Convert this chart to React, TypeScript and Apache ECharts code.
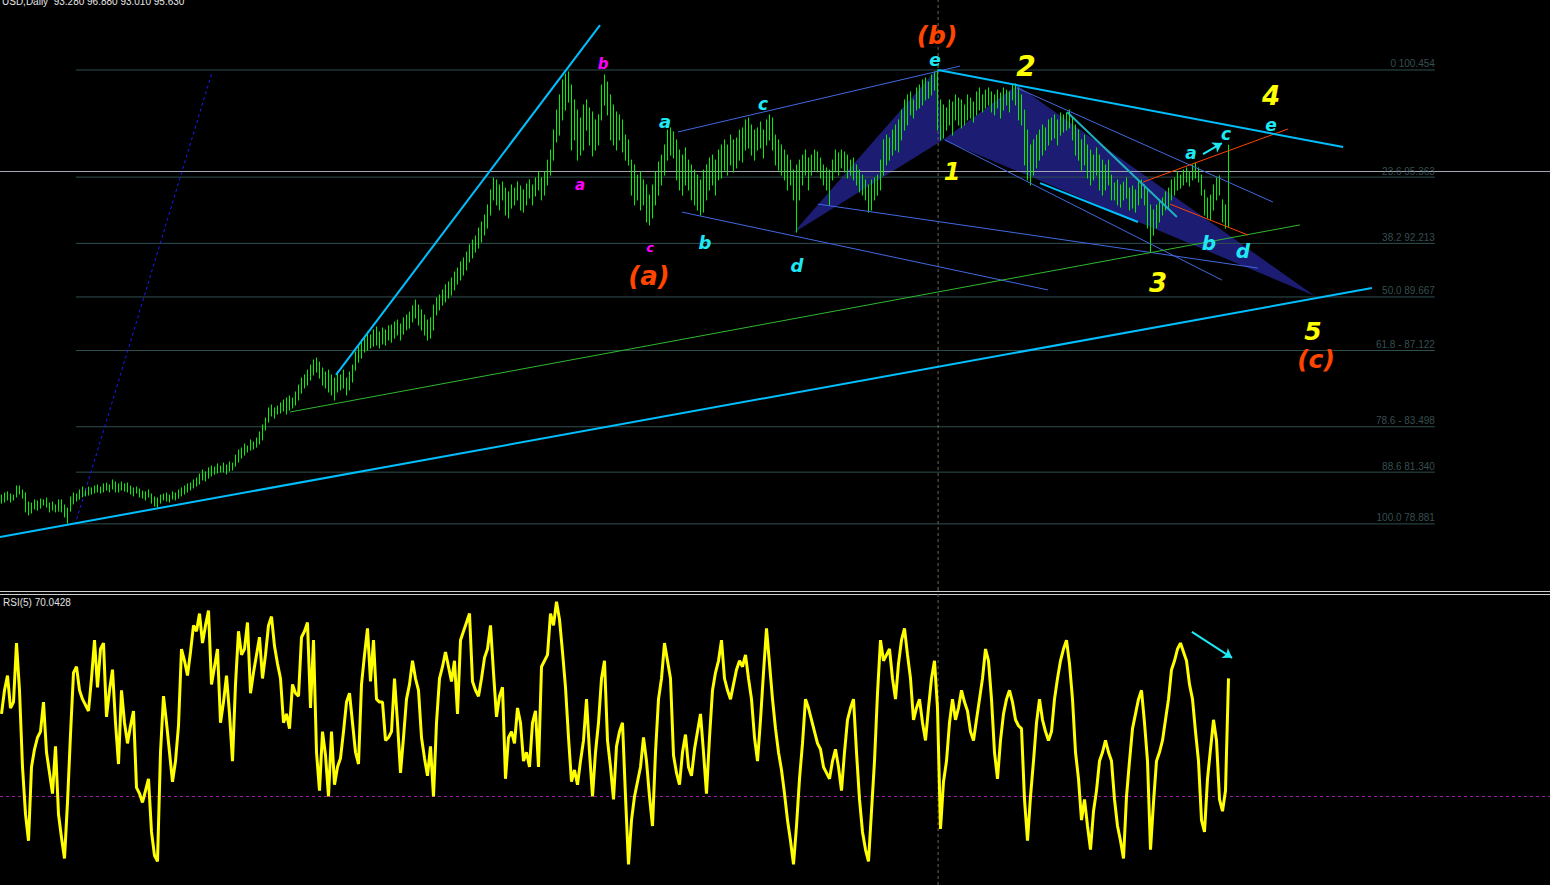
import React, { useEffect, useRef } from "react";
import * as echarts from "echarts";

// ---- price bars (daily high / low) ----
const barHigh = [
  80.25,80.35,80.40,80.30,80.25,80.68,80.68,80.49,80.35,79.92,
  79.87,80.02,79.97,80.06,80.02,80.11,79.87,79.92,79.78,80.02,
  80.02,79.78,79.63,80.16,80.35,80.30,80.49,80.63,80.54,80.63,
  80.59,80.68,80.73,80.63,80.78,80.82,80.73,80.97,80.87,80.78,
  80.87,80.78,80.82,80.68,80.59,80.63,80.54,80.44,80.40,80.49,
  80.30,80.16,80.11,80.25,80.30,80.35,80.25,80.40,80.35,80.49,
  80.59,80.68,80.78,80.82,80.97,81.06,81.25,81.44,81.35,81.54,
  81.63,81.58,81.73,81.63,81.77,81.68,81.82,81.77,82.15,82.39,
  82.49,82.68,82.58,82.87,82.77,82.96,83.25,83.58,83.91,84.39,
  84.53,84.39,84.48,84.63,84.77,84.86,84.96,84.86,85.15,85.48,
  85.81,85.96,86.19,86.43,86.67,86.76,86.57,86.29,86.10,86.19,
  85.96,85.81,86.10,85.96,86.19,85.81,86.10,86.43,87.05,87.38,
  87.62,87.71,88.00,87.86,88.10,88.24,88.00,88.19,88.10,88.29,
  88.33,88.48,88.57,88.38,88.67,88.81,88.95,89.24,89.52,89.28,
  89.05,88.81,88.57,88.67,89.28,89.62,89.76,90.00,90.24,90.38,
  90.57,90.85,91.04,91.33,91.52,91.80,92.14,92.37,92.56,92.94,
  93.23,93.56,94.04,94.75,95.32,95.23,94.99,95.13,94.84,94.66,
  94.99,94.84,95.13,94.94,94.75,95.04,95.23,94.99,95.32,95.61,
  95.32,95.61,96.17,96.65,97.60,98.55,99.27,99.98,100.26,100.36,
  99.74,99.03,98.55,98.17,98.79,99.03,98.65,98.46,98.08,98.32,
  99.74,100.22,99.88,99.27,98.79,98.46,98.32,98.08,97.36,97.13,
  96.17,95.94,95.46,95.61,95.23,94.99,94.51,94.99,95.61,96.08,
  96.41,96.89,97.60,97.70,97.51,97.13,96.65,96.41,96.75,96.17,
  95.94,95.70,95.46,95.23,95.70,95.94,96.27,96.41,96.17,96.65,
  96.89,97.13,96.89,97.36,97.13,97.22,97.60,97.70,98.08,98.17,
  97.84,97.60,97.70,97.98,97.60,98.08,98.32,98.17,97.36,97.13,
  96.89,96.65,96.41,96.17,95.70,95.94,96.17,96.41,96.65,96.27,
  96.41,96.65,96.56,96.27,95.94,95.80,95.70,96.17,96.65,96.51,
  96.65,96.56,96.41,96.17,96.27,95.94,95.70,95.46,95.23,94.99,
  95.23,95.32,95.46,96.17,97.13,97.36,97.22,97.60,97.84,98.08,
  98.55,99.03,99.27,99.41,99.03,99.60,99.74,99.98,100.07,99.88,
  100.22,100.36,100.45,99.03,98.79,98.65,99.03,98.93,99.27,99.12,
  99.03,98.79,99.27,99.12,98.93,99.41,99.60,99.27,99.50,99.60,
  99.41,99.27,99.50,99.36,99.60,99.50,99.41,99.74,99.79,99.60,
  99.27,98.55,97.60,96.89,97.13,97.36,97.60,97.84,97.70,98.08,
  98.17,98.32,98.08,98.41,98.32,98.41,98.55,98.17,97.84,97.60,
  97.13,97.36,96.89,96.65,96.41,96.75,96.41,96.17,95.94,96.17,
  95.46,95.08,95.23,94.99,95.13,95.32,94.84,94.94,94.75,95.13,
  95.23,94.99,94.75,94.04,93.80,94.04,94.28,94.37,94.66,94.84,
  95.23,95.32,95.61,95.46,95.70,95.80,95.61,95.94,96.03,95.80,
  95.46,94.75,94.37,94.51,94.99,95.32,95.42,94.28,94.04,96.88,
];
const barLow = [
  79.87,79.92,80.02,79.92,80.02,80.16,80.30,80.11,79.45,79.30,
  79.40,79.59,79.54,79.63,79.78,79.68,79.45,79.54,79.45,79.49,
  79.45,79.21,78.92,79.49,79.83,79.97,80.06,80.16,80.21,80.25,
  80.30,80.35,80.40,80.35,80.40,80.49,80.40,80.54,80.40,80.40,
  80.49,80.44,80.40,80.30,80.21,80.35,80.16,80.11,80.02,80.16,
  79.87,79.73,79.68,79.87,80.02,79.97,79.92,80.06,80.02,80.11,
  80.21,80.30,80.40,80.49,80.59,80.68,80.78,80.97,80.92,81.06,
  81.16,81.25,81.30,81.35,81.35,81.25,81.39,81.44,81.63,81.82,
  82.01,82.15,82.30,82.39,82.44,82.53,82.68,82.87,83.34,83.72,
  84.01,83.91,84.10,84.15,84.25,84.10,84.29,84.39,84.53,84.77,
  85.10,85.34,85.48,85.72,85.96,86.10,85.81,85.48,85.34,85.15,
  85.01,84.77,85.15,85.25,85.34,85.01,85.25,85.62,86.19,86.57,
  86.76,87.05,87.14,87.24,87.33,87.38,87.24,87.43,87.38,87.62,
  87.52,87.71,87.86,87.62,87.90,88.10,88.19,88.48,88.67,88.33,
  88.10,87.86,87.62,87.71,88.10,88.81,89.05,89.28,89.43,89.62,
  89.76,90.00,90.28,90.47,90.71,90.95,91.33,91.52,91.80,91.99,
  92.28,92.61,92.94,93.56,94.28,94.04,93.80,94.28,93.56,93.42,
  93.89,94.04,94.28,93.80,93.70,94.04,94.37,94.04,94.47,94.75,
  94.28,94.51,94.99,95.46,96.17,97.03,97.36,98.08,98.55,98.93,
  96.65,97.13,96.17,96.41,96.65,97.60,96.89,96.37,96.65,96.89,
  98.08,98.79,98.32,97.13,96.89,96.65,97.13,96.56,96.17,95.94,
  94.51,94.04,94.28,93.80,94.04,93.23,93.09,93.42,94.04,94.51,
  94.99,95.46,96.17,96.41,96.27,95.23,94.75,94.51,94.99,94.75,
  94.28,94.04,93.80,93.56,93.70,94.28,94.75,94.99,94.51,95.23,
  95.32,95.70,95.46,95.94,95.61,95.80,96.17,96.08,96.65,96.75,
  96.41,96.17,96.65,96.75,96.27,96.89,97.13,96.65,95.94,95.70,
  95.46,95.23,94.75,94.99,94.28,92.75,94.28,94.99,95.46,94.75,
  95.46,95.70,95.61,95.32,94.99,94.75,94.04,95.23,95.61,95.46,
  95.80,95.61,95.32,95.46,95.23,94.99,94.66,94.51,94.28,93.70,
  93.80,94.28,94.51,94.75,95.46,95.94,96.17,96.41,96.65,96.56,
  97.13,97.60,97.84,98.32,98.17,98.55,98.65,98.79,99.03,99.12,
  99.27,99.50,97.60,97.13,97.22,97.60,97.84,97.36,98.08,97.84,
  97.70,97.84,98.08,98.17,97.98,98.32,98.55,98.46,98.65,98.79,
  98.46,98.32,98.65,98.17,98.55,98.79,98.46,99.03,98.79,98.08,
  97.84,95.94,95.23,94.99,95.46,95.80,96.17,96.41,96.65,96.89,
  97.13,97.22,96.89,97.36,97.51,97.60,97.70,97.13,96.41,96.17,
  95.70,95.94,95.32,94.99,95.23,95.46,94.75,94.51,94.75,94.99,
  94.28,94.28,94.04,93.94,94.28,94.37,93.80,93.89,93.70,94.04,
  94.37,94.04,92.94,91.80,92.61,92.94,93.23,93.56,93.80,93.89,
  94.28,94.51,94.75,94.84,94.99,95.13,94.94,95.23,95.32,95.13,
  94.51,93.56,93.42,93.32,93.80,94.28,94.51,93.23,92.94,93.01,
];

// ---- RSI(5) ----
const rsi5 = [
  58,66,71,60,62,82,66,40,24,15,
  40,46,50,52,62,45,38,31,47,24,
  16,9,28,51,72,74,66,63,61,59,
  70,83,67,80,82,57,66,73,55,41,
  66,55,48,54,59,33,31,28,32,36,
  18,10,8,45,64,55,45,35,42,54,
  80,76,71,79,88,86,92,82,88,93,
  68,74,80,55,62,71,58,42,68,86,
  78,80,89,65,72,78,84,70,78,88,
  91,81,75,70,55,58,53,68,65,64,
  84,86,89,60,83,45,32,52,44,30,
  52,34,40,43,52,62,65,55,45,41,
  68,78,87,69,83,63,62,62,49,50,
  52,70,55,38,50,63,68,76,70,66,
  50,43,37,47,30,55,70,74,79,74,
  69,76,58,83,86,89,92,69,66,64,
  70,77,80,88,72,57,64,67,36,50,
  52,48,60,55,42,45,40,55,59,40,
  74,76,78,92,88,96,90,79,67,50,
  35,39,34,42,49,63,45,30,45,55,
  70,76,49,40,29,47,52,55,30,7,
  22,30,35,40,50,42,30,20,45,63,
  70,82,76,70,44,38,34,45,51,40,
  37,46,52,58,45,31,50,66,72,76,
  83,70,66,63,68,73,76,74,78,70,
  63,50,42,56,72,87,75,63,53,45,
  39,31,22,15,7,20,36,48,63,60,
  56,52,48,46,40,38,36,42,46,40,
  32,45,56,60,63,45,29,18,12,8,
  25,42,65,83,76,78,80,70,63,75,
  83,87,78,70,56,60,63,55,49,60,
  70,76,60,19,35,42,55,63,56,60,
  66,62,59,52,49,56,63,70,80,76,
  63,45,36,49,58,63,66,62,56,54,
  53,29,15,30,42,55,63,56,52,49,
  52,63,70,76,80,83,75,63,45,36,
  22,29,20,12,25,32,42,45,49,45,
  42,29,20,15,9,30,42,53,58,63,
  66,55,42,12,28,42,45,49,56,63,
  73,76,80,82,79,76,68,63,52,42,
  22,18,36,46,56,49,29,25,32,70.0428,
];
const rsiLevel = 30;

const lastBar = { open: 93.28, high: 96.88, low: 93.01, close: 95.63 };

// ---- Fibonacci retracement ----
const fibTags = ["0", "23.6", "38.2", "50.0", "61.8 -", "78.6 -", "88.6", "100.0"];
const fibLevels = [100.454, 95.363, 92.213, 89.667, 87.122, 83.498, 81.34, 78.881];
const fibFromBar = 24.8;
const fibToBar = 477.8;
const markerBar = 312.2;

// ---- drawn objects: [barFrom, priceFrom, barTo, priceTo] ----
const cyanLines = [
  [-0.5, 78.26, 456.8, 90.09],
  [111.5, 85.96, 199.5, 102.59],
  [312.2, 100.45, 447.2, 96.79],
  [346.2, 95.08, 378.8, 93.23],
];
const tealLines = [[355.2, 98.46, 391.8, 93.47]];
const royalLines = [
  [225.5, 97.51, 319.5, 100.64],
  [226.8, 93.7, 348.8, 90.0],
  [338.5, 99.6, 423.8, 94.18],
  [314.5, 97.13, 406.8, 90.47],
  [272.2, 94.08, 418.8, 91.04],
];
const greenLines = [[96.2, 84.2, 432.8, 93.09]];
const dottedLines = [[24.5, 78.83, 70.2, 100.36]];
const redLines = [
  [380.5, 95.13, 428.8, 97.65],
  [389.5, 94.08, 415.5, 92.61],
];
const arrowMain = [400.5, 96.46, 406.8, 96.98];
const arrowRsi = [396.8, 85.8, 410.2, 77.0];
const navyTriangles = [
  [[263.8, 92.7], [311.5, 100.45], [313.8, 97.13]],
  [[313.8, 97.13], [338.5, 99.74], [437.8, 89.71]],
];

const X_MIN = -0.5;
const X_MAX = 516.1667;

const BAR = "#00f200";
const CYAN = "#00BFFF";
const LABEL_CYAN = "#1fe8f5";

function segSeries(lines: number[][], color: string, width: number, type: any, z: number) {
  return lines.map((l) => ({
    type: "line",
    xAxisIndex: 0,
    yAxisIndex: 0,
    data: [[l[0], l[1]], [l[2], l[3]]],
    symbol: "none",
    silent: true,
    z,
    lineStyle: { color, width, type },
  }));
}

const waveLabels: any[] = [
  ["(b)", 937, 35, "#FF4500", 25],
  ["e", 935, 60, LABEL_CYAN, 17],
  ["2", 1026, 66, "#FFFF00", 28],
  ["4", 1271, 96, "#FFFF00", 26],
  ["1", 952, 172, "#FFFF00", 24],
  ["3", 1158, 283, "#FFFF00", 26],
  ["5", 1313, 331, "#FFFF00", 25],
  ["(c)", 1316, 359, "#FF4500", 25],
  ["(a)", 649, 276, "#FF4500", 26],
  ["b", 603, 64, "#FF00FF", 15],
  ["a", 580, 185, "#FF00FF", 15],
  ["c", 650, 247, "#FF00FF", 13],
  ["a", 665, 121, LABEL_CYAN, 18],
  ["b", 705, 242, LABEL_CYAN, 18],
  ["c", 763, 104, LABEL_CYAN, 17],
  ["d", 797, 265, LABEL_CYAN, 18],
  ["a", 1191, 153, LABEL_CYAN, 17],
  ["c", 1226, 134, LABEL_CYAN, 17],
  ["e", 1271, 125, LABEL_CYAN, 17],
  ["b", 1209, 243, LABEL_CYAN, 20],
  ["d", 1243, 251, LABEL_CYAN, 20],
];

export default function App() {
  const ref = useRef<HTMLDivElement>(null);
  useEffect(() => {
    if (!ref.current) return;
    const chart = echarts.init(ref.current, undefined, { renderer: "svg" });
    const fmt = (v: number) => v.toFixed(3);

    const series: any[] = [];

    series.push({
      type: "custom",
      xAxisIndex: 0,
      yAxisIndex: 0,
      silent: true,
      clip: false,
      z: 1,
      data: navyTriangles.map((t) => t[0]),
      encode: { x: 0, y: 1 },
      renderItem: (params: any, api: any) => ({
        type: "polygon",
        shape: { points: navyTriangles[params.dataIndex].map((p) => api.coord(p)) },
        style: { fill: "#1c1c72" },
      }),
    });

    fibLevels.forEach((lv) => {
      series.push({
        type: "line",
        xAxisIndex: 0,
        yAxisIndex: 0,
        data: [[fibFromBar, lv], [fibToBar, lv]],
        symbol: "none",
        silent: true,
        z: 2,
        lineStyle: { color: "#2F4F4F", width: 1 },
      });
    });
    series.push({
      type: "scatter",
      xAxisIndex: 0,
      yAxisIndex: 0,
      symbolSize: 0,
      silent: true,
      z: 3,
      data: fibLevels.map((lv, i) => ({
        value: [fibToBar, lv],
        label: { formatter: `${fibTags[i]} ${fmt(lv)}` },
      })),
      label: {
        show: true,
        position: [0, -1],
        align: "right",
        verticalAlign: "bottom",
        color: "#456464",
        fontSize: 10,
        fontFamily: "Liberation Sans",
      },
    });

    series.push({
      type: "line",
      xAxisIndex: 0,
      yAxisIndex: 0,
      data: [[X_MIN, lastBar.close], [X_MAX, lastBar.close]],
      symbol: "none",
      silent: true,
      z: 2,
      lineStyle: { color: "#A8A8B4", width: 1 },
    });

    series.push({
      type: "line",
      xAxisIndex: 0,
      yAxisIndex: 0,
      data: [[markerBar, 75.739], [markerBar, 103.781]],
      symbol: "none",
      silent: true,
      z: 2,
      lineStyle: { color: "#6b6b4b", width: 1, type: [3, 3] },
    });
    series.push({
      type: "line",
      xAxisIndex: 1,
      yAxisIndex: 1,
      data: [[markerBar, 0], [markerBar, 100]],
      symbol: "none",
      silent: true,
      z: 2,
      lineStyle: { color: "#6b6b4b", width: 1, type: [3, 3] },
    });

    series.push({
      type: "custom",
      xAxisIndex: 0,
      yAxisIndex: 0,
      silent: true,
      z: 5,
      data: barHigh.map((h, i) => [i, barLow[i], h]),
      encode: { x: 0, y: [1, 2] },
      renderItem: (params: any, api: any) => {
        const x = api.value(0);
        const lo = api.coord([x, api.value(1)]);
        const hi = api.coord([x, api.value(2)]);
        return {
          type: "line",
          shape: { x1: lo[0], y1: lo[1] + 0.5, x2: hi[0], y2: hi[1] - 0.5 },
          style: { stroke: BAR, lineWidth: 1 },
        };
      },
    });

    series.push(...segSeries(royalLines, "#4169E1", 1, "solid", 6));
    series.push(...segSeries(greenLines, "#2fb82f", 1, "solid", 6));
    series.push(...segSeries(dottedLines, "#1a1aff", 1, [3, 3], 6));
    series.push(...segSeries(redLines, "#FF4500", 1, "solid", 6));
    series.push(...segSeries(tealLines, "#1fb0c0", 2, "solid", 7));
    series.push(...segSeries(cyanLines, CYAN, 2, "solid", 7));

    series.push({
      type: "line",
      xAxisIndex: 0,
      yAxisIndex: 0,
      data: [],
      silent: true,
      z: 8,
      markLine: {
        silent: true,
        symbol: ["none", "arrow"],
        symbolSize: 9,
        label: { show: false },
        lineStyle: { color: LABEL_CYAN, width: 2, type: "solid" },
        data: [[{ coord: [arrowMain[0], arrowMain[1]] }, { coord: [arrowMain[2], arrowMain[3]] }]],
      },
    });
    series.push({
      type: "line",
      xAxisIndex: 1,
      yAxisIndex: 1,
      data: [],
      silent: true,
      z: 8,
      markLine: {
        silent: true,
        symbol: ["none", "arrow"],
        symbolSize: 9,
        label: { show: false },
        lineStyle: { color: LABEL_CYAN, width: 2, type: "solid" },
        data: [[{ coord: [arrowRsi[0], arrowRsi[1]] }, { coord: [arrowRsi[2], arrowRsi[3]] }]],
      },
    });

    series.push({
      type: "line",
      xAxisIndex: 1,
      yAxisIndex: 1,
      data: [[X_MIN, rsiLevel], [X_MAX, rsiLevel]],
      symbol: "none",
      silent: true,
      z: 2,
      lineStyle: { color: "#a01ca0", width: 1, type: [3, 3] },
    });
    series.push({
      type: "line",
      xAxisIndex: 1,
      yAxisIndex: 1,
      data: rsi5.map((v, i) => [i, v]),
      symbol: "none",
      silent: true,
      z: 5,
      lineStyle: { color: "#FFFF00", width: 3 },
    });

    const graphics: any[] = [
      { type: "line", shape: { x1: 0, y1: 591.5, x2: 1550, y2: 591.5 }, style: { stroke: "#cfcfcf", lineWidth: 1 }, silent: true },
      { type: "line", shape: { x1: 0, y1: 594.5, x2: 1550, y2: 594.5 }, style: { stroke: "#cfcfcf", lineWidth: 1 }, silent: true },
      {
        type: "text",
        x: 2,
        y: -4,
        silent: true,
        style: {
          text: `USD,Daily  ${lastBar.open.toFixed(3)} ${lastBar.high.toFixed(3)} ${lastBar.low.toFixed(3)} ${lastBar.close.toFixed(3)}`,
          fill: "#e6e6e6",
          font: '10px "Liberation Sans"',
          align: "left",
          verticalAlign: "top",
        },
      },
      {
        type: "text",
        x: 3,
        y: 597,
        silent: true,
        style: {
          text: `RSI(5) ${rsi5[rsi5.length - 1].toFixed(4)}`,
          fill: "#e0e0e0",
          font: '10px "Liberation Sans"',
          align: "left",
          verticalAlign: "top",
        },
      },
      ...waveLabels.map((w) => ({
        type: "text",
        x: w[1],
        y: w[2],
        silent: true,
        z: 20,
        style: {
          text: w[0],
          fill: w[3],
          font: `italic bold ${w[4]}px "DejaVu Sans"`,
          align: "center",
          verticalAlign: "middle",
        },
      })),
    ];

    chart.setOption({
      animation: false,
      backgroundColor: "#000000",
      grid: [
        { left: 0, right: 0, top: 0, height: 590 },
        { left: 0, right: 0, top: 590, height: 295 },
      ],
      xAxis: [
        { type: "value", gridIndex: 0, min: X_MIN, max: X_MAX, show: false },
        { type: "value", gridIndex: 1, min: X_MIN, max: X_MAX, show: false },
      ],
      yAxis: [
        { type: "value", gridIndex: 0, min: 75.739, max: 103.781, show: false, splitLine: { show: false } },
        { type: "value", gridIndex: 1, min: 0, max: 100, show: false, splitLine: { show: false } },
      ],
      series,
      graphic: graphics,
    });
    return () => chart.dispose();
  }, []);
  return (
    <div
      ref={ref}
      style={{ position: "fixed", left: 0, top: 0, width: 1550, height: 885, background: "#000" }}
    />
  );
}
